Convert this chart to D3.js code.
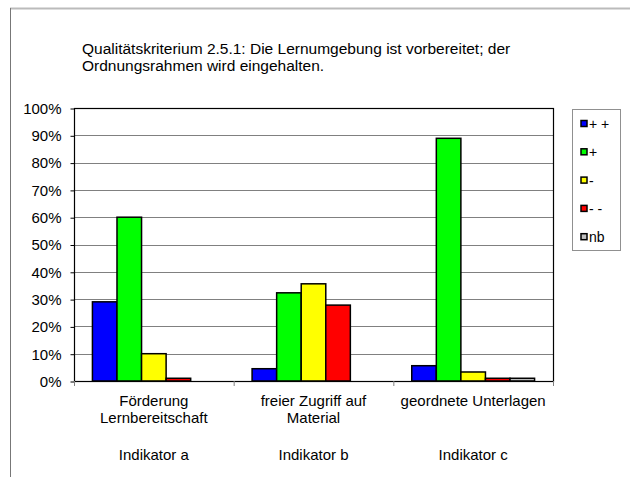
<!DOCTYPE html>
<html>
<head>
<meta charset="utf-8">
<script src="https://cdn.jsdelivr.net/npm/d3@7"></script>
<style>
  body { margin: 0; background: #fff; }
  text { font-family: "Liberation Sans", Arial, sans-serif; fill: #000; }
</style>
</head>
<body>
<div class="chart"></div>
<script>
var categories = [['Förderung', 'Lernbereitschaft'], ['freier Zugriff auf', 'Material'], ['geordnete Unterlagen']],
  indicators = ['Indikator a', 'Indikator b', 'Indikator c'],
  seriesNames = ['+ +', '+', '-', '- -', 'nb'],
  seriesColors = ['#0000ff', '#00ff00', '#ffff00', '#ff0000', '#c0c0c0'],
  // values in percent, one row per category
  values = [
    [29, 60, 10, 1, 0],
    [4.5, 32.3, 35.6, 27.8, 0],
    [5.6, 88.9, 3.3, 1, 1]
  ],
  yTicks = [0, 10, 20, 30, 40, 50, 60, 70, 80, 90, 100],
  titleLines = ['Qualitätskriterium 2.5.1: Die Lernumgebung ist vorbereitet; der', 'Ordnungsrahmen wird eingehalten.'];

var W = 630, H = 477,
  plot = { left: 74, right: 553, top: 108, bottom: 381 };

var svg = d3.select('.chart')
  .append('svg')
    .attr('width', W)
    .attr('height', H);

// outer frame (only top and left edges visible)
svg.append('line')
  .attr('x1', 10).attr('x2', W).attr('y1', 8.5).attr('y2', 8.5)
  .attr('stroke', '#bbbbbb').attr('stroke-width', 2);
svg.append('line')
  .attr('x1', 10.5).attr('x2', 10.5).attr('y1', 8).attr('y2', H)
  .attr('stroke', '#777777').attr('stroke-width', 1);

// title
svg.append('g')
  .selectAll('text')
  .data(titleLines)
  .enter()
  .append('text')
    .attr('x', 82)
    .attr('y', (d, i) => 54 + i * 17)
    .style('font-size', '15.5px')
    .text(d => d);

var xScale = d3.scaleBand()
  .domain(d3.range(categories.length))
  .range([plot.left, plot.right]);

var xInner = d3.scaleBand()
  .domain(seriesNames)
  .range([0, xScale.bandwidth()])
  .paddingOuter(0.75);

var yScale = d3.scaleLinear()
  .domain([0, 100])
  .range([plot.bottom, plot.top]);

// gridlines
svg.append('g')
  .selectAll('line')
  .data(yTicks.slice(1, -1))
  .enter()
  .append('line')
    .attr('x1', plot.left).attr('x2', plot.right)
    .attr('y1', d => Math.round(yScale(d)) + 0.5)
    .attr('y2', d => Math.round(yScale(d)) + 0.5)
    .attr('stroke', '#808080')
    .attr('stroke-width', 1);

// y axis
var yAxis = d3.axisLeft(yScale)
  .tickValues(yTicks)
  .tickSize(4)
  .tickPadding(9)
  .tickFormat(d => d + '%');

var gY = svg.append('g')
  .attr('transform', `translate(${plot.left + 0.5}, 0.5)`)
  .call(yAxis);
gY.select('.domain').remove();
gY.selectAll('line').attr('stroke', '#000');
gY.selectAll('text')
  .style('font-size', '15px')
  .style('font-family', '"Liberation Sans", Arial, sans-serif');

// bars
var groups = svg.append('g')
  .selectAll('.group')
  .data(values)
  .enter()
  .append('g')
    .attr('class', 'group')
    .attr('transform', (d, i) => `translate(${xScale(i)}, 0)`);

groups.selectAll('rect')
  .data(d => d.map((v, j) => ({ name: seriesNames[j], value: v, color: seriesColors[j] })))
  .enter()
  .filter(d => d.value > 0)
  .append('rect')
    .attr('x', d => xInner(d.name))
    .attr('width', xInner.bandwidth())
    .attr('y', d => yScale(d.value))
    .attr('height', d => plot.bottom - yScale(d.value))
    .attr('fill', d => d.color)
    .attr('stroke', '#000')
    .attr('stroke-width', 1.5);

// plot border
svg.append('rect')
  .attr('x', plot.left + 0.5).attr('y', plot.top + 0.5)
  .attr('width', plot.right - plot.left).attr('height', plot.bottom - plot.top)
  .attr('fill', 'none')
  .attr('stroke', '#000')
  .attr('stroke-width', 1.2);

// category ticks
svg.append('g')
  .selectAll('line')
  .data(d3.range(categories.length + 1))
  .enter()
  .append('line')
    .attr('x1', d => (d < categories.length ? xScale(d) : plot.right) + 0.5)
    .attr('x2', d => (d < categories.length ? xScale(d) : plot.right) + 0.5)
    .attr('y1', plot.bottom).attr('y2', plot.bottom + 5)
    .attr('stroke', '#808080');

// category labels
var catLabels = svg.append('g')
  .selectAll('text')
  .data(categories)
  .enter()
  .append('text')
    .attr('x', (d, i) => xScale(i) + xScale.bandwidth() / 2)
    .attr('y', 406)
    .attr('text-anchor', 'middle')
    .style('font-size', '15px');

catLabels.selectAll('tspan')
  .data(d => d)
  .enter()
  .append('tspan')
    .attr('x', function() { return d3.select(this.parentNode).attr('x'); })
    .attr('dy', (d, i) => i === 0 ? 0 : 17)
    .text(d => d);

svg.append('g')
  .selectAll('text')
  .data(indicators)
  .enter()
  .append('text')
    .attr('x', (d, i) => xScale(i) + xScale.bandwidth() / 2)
    .attr('y', 460)
    .attr('text-anchor', 'middle')
    .style('font-size', '15px')
    .text(d => d);

// legend
var legendBox = svg.append('g');
legendBox.append('rect')
  .attr('x', 572.5).attr('y', 109.5)
  .attr('width', 48).attr('height', 141)
  .attr('fill', '#fff')
  .attr('stroke', '#909090');

var legend = legendBox
  .selectAll('.legend')
  .data(seriesNames)
  .enter()
  .append('g')
    .attr('class', 'legend')
    .attr('transform', (d, i) => `translate(0, ${124 + i * 28.3})`);

legend.append('rect')
  .attr('x', 581).attr('y', -3.5)
  .attr('width', 6).attr('height', 6)
  .attr('fill', (d, i) => seriesColors[i])
  .attr('stroke', '#000')
  .attr('stroke-width', 1.5);

legend.append('text')
  .attr('x', 589)
  .attr('y', 0)
  .attr('dy', '.35em')
  .style('font-size', '14px')
  .text(d => d);
</script>
</body>
</html>
